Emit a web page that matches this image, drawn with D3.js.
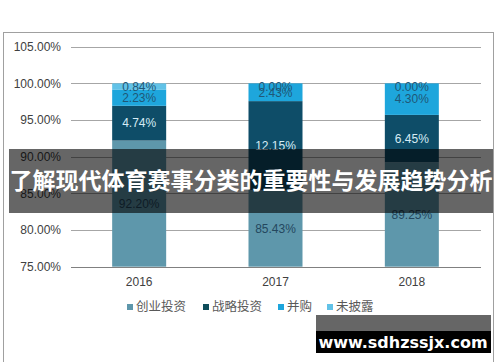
<!DOCTYPE html>
<html>
<head>
<meta charset="utf-8">
<script src="https://cdn.jsdelivr.net/npm/d3@7"></script>
<style>
  body { margin: 0; background: #fff; }
  svg { display: block; font-family: "Liberation Sans", Arial, sans-serif; }
  .grid-line { stroke: #a6a6a6; stroke-width: 1; }
  .axis-label { fill: #404040; font-size: 12px; }
</style>
</head>
<body>
<svg width="500" height="362"></svg>
<script>
'use strict';

var YEARS = ['2016', '2017', '2018'];
var SERIES = ['创业投资', '战略投资', '并购', '未披露'];
var CHUANGYE = [92.20, 85.43, 89.25];
var ZHANLUE = [4.74, 12.15, 6.45];
var BINGGOU = [2.23, 2.43, 4.30];
var WEIPILU = [0.84, 0.00, 0.00];
var Y_TICKS = [75, 80, 85, 90, 95, 100, 105];
var COLORS = ['#5e97ab', '#0e4d68', '#1ea6dc', '#62c2e7'];
var LABEL_COLORS = ['#24475e', '#d6ecf5', '#1f5877', '#1f5877'];

var svg = d3.select('svg');

var xScale = d3.scaleBand().domain(YEARS).range([71, 480]).paddingInner(0.6).paddingOuter(0.3);
var yScale = d3.scaleLinear().domain([75, 105]).range([266.7, 46.7]);

// outer border
svg.append('rect').attr('x', 3.5).attr('y', 32.5).attr('width', 490).attr('height', 360)
  .attr('fill', 'none').attr('stroke', '#a0a0a0');

// grid lines + y labels
svg.append('g').selectAll('line').data(Y_TICKS).enter().append('line')
  .attr('class', 'grid-line')
  .attr('x1', 71).attr('x2', 481)
  .attr('y1', function (d) { return Math.round(yScale(d)) + 0.5; })
  .attr('y2', function (d) { return Math.round(yScale(d)) + 0.5; })
  .style('stroke', function (d) { return d === 75 ? '#808080' : null; });

svg.append('g').selectAll('text').data(Y_TICKS).enter().append('text')
  .attr('class', 'axis-label')
  .attr('x', 61).attr('y', function (d) { return yScale(d); })
  .attr('dy', '0.35em').attr('text-anchor', 'end')
  .text(function (d) { return d.toFixed(2) + '%'; });

// stacked data
var rows = YEARS.map(function (y, i) {
  return { year: y, s0: CHUANGYE[i], s1: ZHANLUE[i], s2: BINGGOU[i], s3: WEIPILU[i] };
});
var stack = d3.stack().keys(['s0', 's1', 's2', 's3']);
var layers = stack(rows);

var bw = 54;
function barX(d) { return xScale(d.data.year) + xScale.bandwidth() / 2 - bw / 2; }

var layerG = svg.append('g').selectAll('g').data(layers).enter().append('g')
  .attr('fill', function (d, i) { return COLORS[i]; });

layerG.selectAll('rect').data(function (d) { return d; }).enter().append('rect')
  .attr('x', barX)
  .attr('width', bw)
  .attr('y', function (d) { return yScale(Math.min(d[1], 100)); })
  .attr('height', function (d) {
    var top = Math.min(d[1], 100);
    var bot = Math.max(d[0], 75);
    return Math.max(0, yScale(bot) - yScale(top));
  });

// value labels, centred in the visible part of each segment
layers.forEach(function (layer, li) {
  svg.append('g').selectAll('text').data(layer).enter().append('text')
    .attr('x', function (d) { return xScale(d.data.year) + xScale.bandwidth() / 2; })
    .attr('y', function (d) {
      var mid = (Math.max(d[0], 75) + Math.min(d[1], 100)) / 2;
      if (li === 3) mid = Math.min(mid, 99.55);
      if (li === 2 && d.data.s3 === 0 && d.data.s2 < 3) mid = 98.7;
      return yScale(mid);
    })
    .attr('dy', '0.35em')
    .attr('text-anchor', 'middle')
    .attr('font-size', '12px')
    .attr('fill', LABEL_COLORS[li])
    .text(function (d) { return d.data['s' + li].toFixed(2) + '%'; });
});

// x labels
svg.append('g').selectAll('text').data(YEARS).enter().append('text')
  .attr('class', 'axis-label')
  .attr('x', function (d) { return xScale(d) + xScale.bandwidth() / 2; })
  .attr('y', 282).attr('dy', '0.35em').attr('text-anchor', 'middle')
  .text(function (d) { return d; });

// legend
var legendX = [127, 203, 278, 327];
var legend = svg.append('g').selectAll('g').data(SERIES).enter().append('g')
  .attr('transform', function (d, i) { return 'translate(' + legendX[i] + ',307)'; });
legend.append('rect').attr('x', 0).attr('y', -3).attr('width', 6).attr('height', 6)
  .attr('fill', function (d, i) { return i === 1 ? '#0e4d5a' : COLORS[i]; });
legend.append('text').attr('x', 9).attr('dy', '0.35em')
  .attr('font-size', '12.5px').attr('fill', '#595959')
  .style('font-family', '"Noto Sans CJK SC", sans-serif')
  .text(function (d) { return d; });

// title overlay
svg.append('rect').attr('x', 9).attr('y', 149).attr('width', 484).attr('height', 64)
  .attr('fill', 'rgba(0,0,0,0.6)');
svg.append('text').attr('x', 251).attr('y', 181).attr('dy', '0.35em')
  .attr('text-anchor', 'middle').attr('fill', '#fff')
  .attr('font-size', '23px').attr('font-weight', 'bold')
  .style('font-family', '"Noto Sans CJK SC", sans-serif')
  .text('了解现代体育赛事分类的重要性与发展趋势分析');

// watermark
svg.append('rect').attr('x', 316).attr('y', 315).attr('width', 175).attr('height', 16)
  .attr('fill', 'rgba(0,0,0,0.6)');
svg.append('rect').attr('x', 316).attr('y', 331).attr('width', 175).attr('height', 22)
  .attr('fill', '#000');
svg.append('text').attr('x', 403).attr('y', 342).attr('dy', '0.35em')
  .attr('text-anchor', 'middle').attr('fill', '#fff')
  .attr('font-size', '16px').attr('font-weight', 'bold')
  .style('font-family', '"DejaVu Sans", sans-serif')
  .text('www.sdhzssjx.com');
</script>
</body>
</html>
